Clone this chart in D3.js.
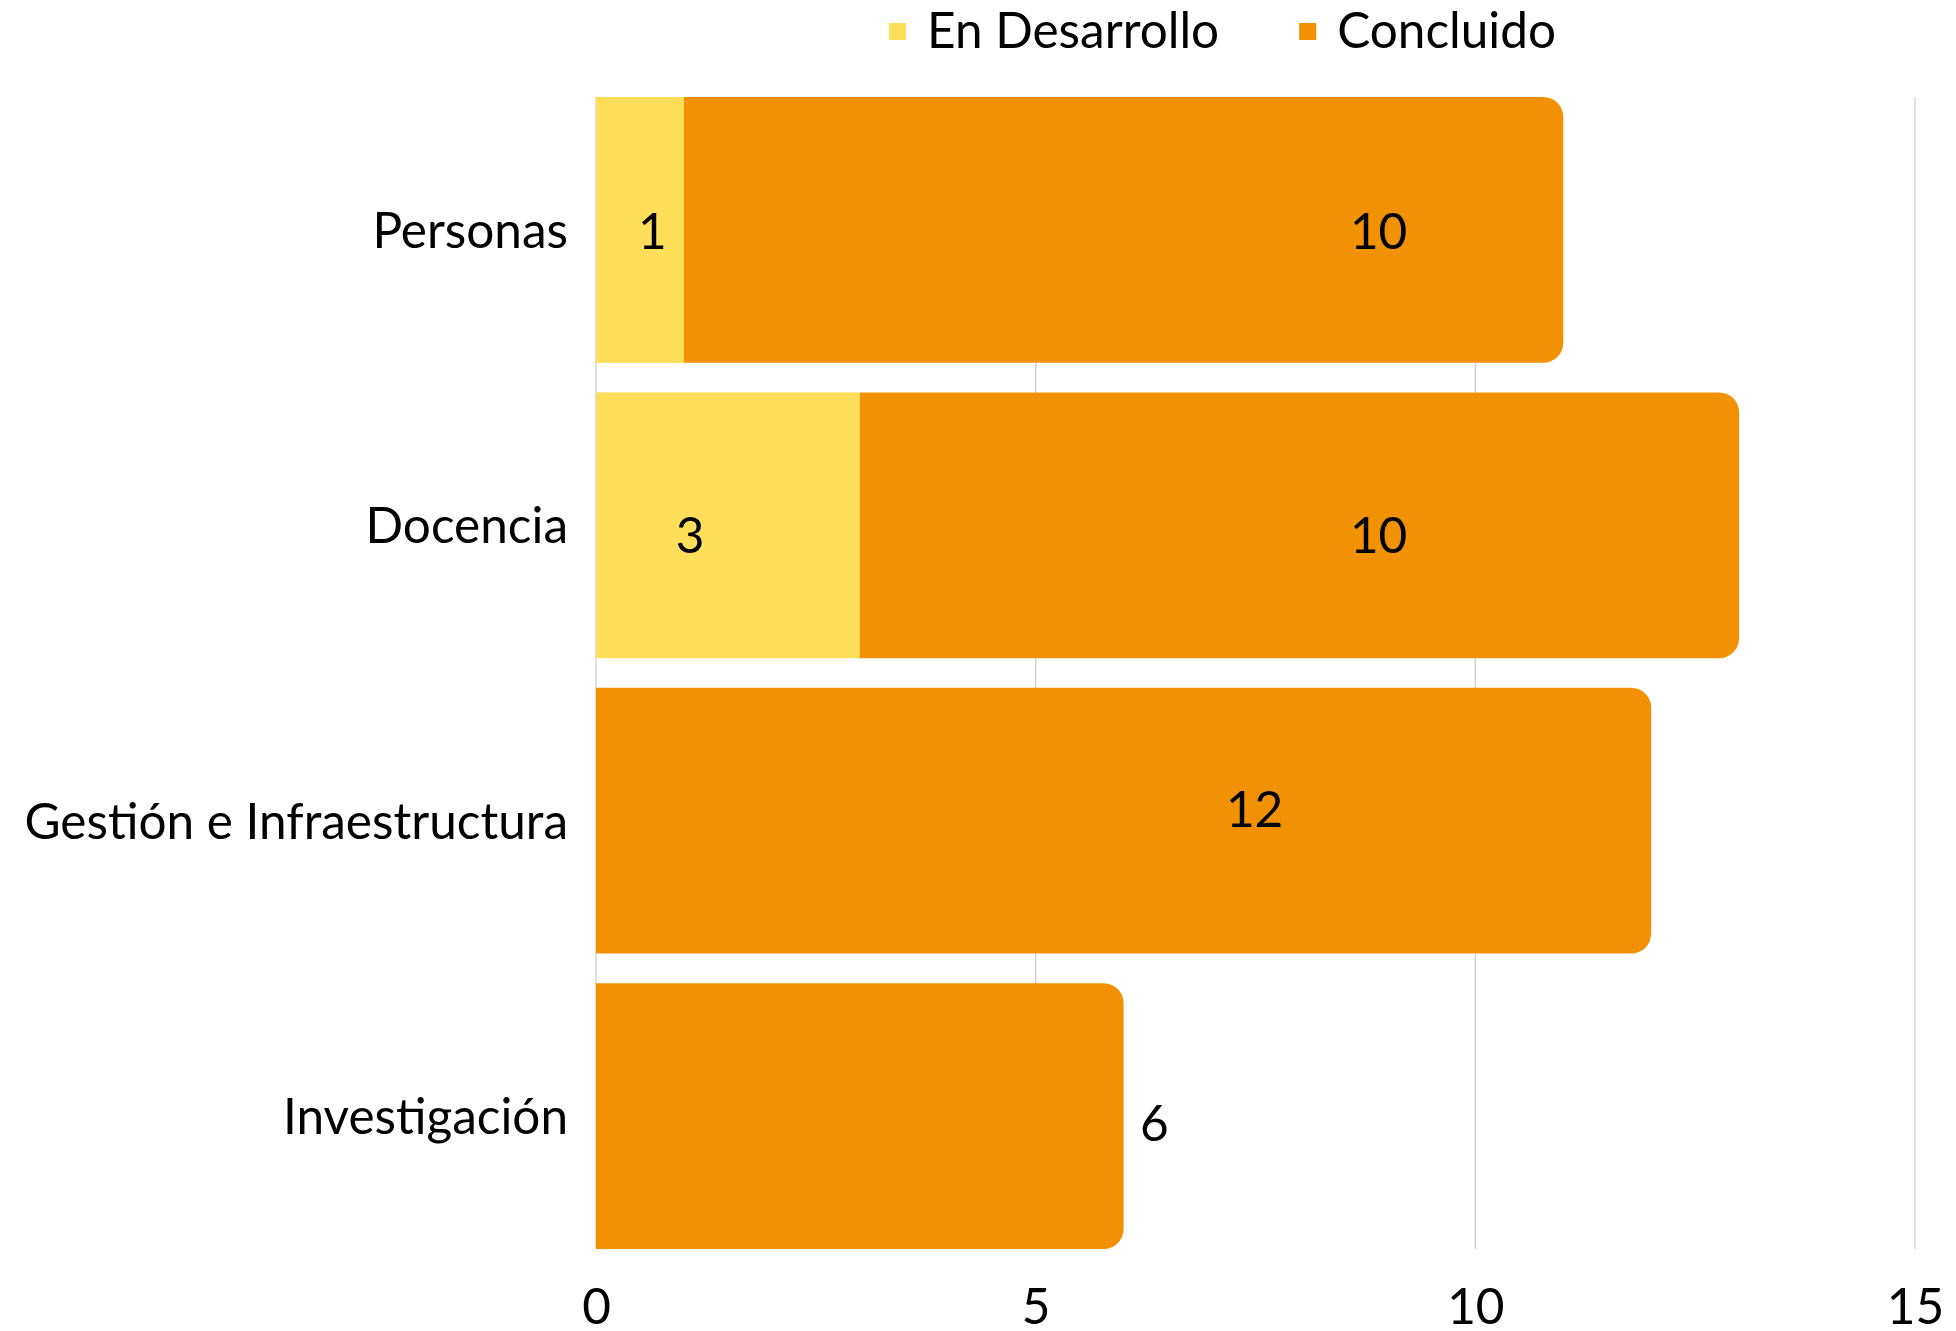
<!DOCTYPE html>
<html>
<head>
<meta charset="utf-8">
<script src="https://cdn.jsdelivr.net/npm/d3@7"></script>
<style>
  body { margin: 0; background: #fff; }
  text { font-family: Lato, "Open Sans", sans-serif; fill: #000; }
</style>
</head>
<body>
<div id="chart"></div>
<script>
// data
var categories = ["Personas", "Docencia", "Gestión e Infraestructura", "Investigación"];
var seriesNames = ["En Desarrollo", "Concluido"];
var enDesarrollo = [1, 3, 0, 0];
var concluido = [10, 10, 12, 6];
var xTicks = [0, 5, 10, 15];

// label anchors in value units (the original labels were moved by hand)
var labelAtDesarrollo = [0.64, 1.07, null, null];
var labelAtConcluido = [8.9, 8.9, 7.49, 6.35];
var labelNudge = [1, 10, -12, 7];

var colors = ["#FFDE5A", "#F29104"];
var fontSize = 49.5;

var W = 1956, H = 1331;
var margin = {top: 97, right: 41, bottom: 82, left: 596}
  , width = W - margin.left - margin.right
  , height = H - margin.top - margin.bottom;

var svg = d3.select("#chart").append("svg")
    .attr("width", W)
    .attr("height", H);

var g = svg.append("g")
    .attr("transform", "translate(" + margin.left + "," + margin.top + ")");

var xScale = d3.scaleLinear()
    .domain([0, 15])
    .range([0, width]);

var yScale = d3.scaleBand()
    .domain(categories)
    .range([0, height])
    .paddingInner(0.1)
    .paddingOuter(0);

// vertical gridlines
g.selectAll(".grid")
    .data(xTicks)
  .enter().append("line")
    .attr("class", "grid")
    .attr("x1", function(d) { return xScale(d); })
    .attr("x2", function(d) { return xScale(d); })
    .attr("y1", 0)
    .attr("y2", height)
    .attr("stroke", "#d0d0d0")
    .attr("stroke-width", 1.3);

// x axis tick labels
var xAxis = g.append("g")
    .attr("transform", "translate(0," + height + ")")
    .call(d3.axisBottom(xScale).tickValues(xTicks).tickSize(0).tickPadding(40));
xAxis.select(".domain").remove();
xAxis.selectAll("text")
    .attr("font-family", "Lato")
    .attr("font-size", fontSize)
    .attr("fill", "#000");

// y axis category labels
var yAxis = g.append("g")
    .call(d3.axisLeft(yScale).tickSize(0).tickPadding(28));
yAxis.select(".domain").remove();
yAxis.selectAll("text")
    .attr("font-family", "Lato")
    .attr("font-size", fontSize)
    .attr("fill", "#000")
    .attr("dy", "0.36em");

// bar with rounded right end
function roundedBar(x0, x1, y, h, r) {
  r = Math.min(r, (x1 - x0));
  return "M" + x0 + "," + y +
    "H" + (x1 - r) +
    "A" + r + "," + r + " 0 0 1 " + x1 + "," + (y + r) +
    "V" + (y + h - r) +
    "A" + r + "," + r + " 0 0 1 " + (x1 - r) + "," + (y + h) +
    "H" + x0 + "Z";
}

var rows = categories.map(function(c, i) {
  return {cat: c, des: enDesarrollo[i], con: concluido[i], i: i};
});

// En Desarrollo segments
g.selectAll(".des")
    .data(rows.filter(function(d) { return d.des > 0; }))
  .enter().append("rect")
    .attr("class", "des")
    .attr("x", xScale(0))
    .attr("y", function(d) { return yScale(d.cat); })
    .attr("width", function(d) { return xScale(d.des) - xScale(0); })
    .attr("height", yScale.bandwidth())
    .attr("fill", colors[0]);

// Concluido segments (end of stack, rounded)
g.selectAll(".con")
    .data(rows)
  .enter().append("path")
    .attr("class", "con")
    .attr("d", function(d) {
      return roundedBar(xScale(d.des), xScale(d.des + d.con), yScale(d.cat), yScale.bandwidth(), 20);
    })
    .attr("fill", colors[1]);

// value labels
var labels = [];
rows.forEach(function(d) {
  if (d.des > 0) labels.push({v: d.des, at: labelAtDesarrollo[d.i], cat: d.cat, i: d.i});
  labels.push({v: d.con, at: labelAtConcluido[d.i], cat: d.cat, i: d.i});
});

g.selectAll(".lbl")
    .data(labels)
  .enter().append("text")
    .attr("class", "lbl")
    .attr("x", function(d) { return xScale(d.at); })
    .attr("y", function(d) { return yScale(d.cat) + yScale.bandwidth() / 2 + labelNudge[d.i]; })
    .attr("dy", "0.36em")
    .attr("text-anchor", "middle")
    .attr("font-size", fontSize)
    .text(function(d) { return d.v; });

// legend
var legend = svg.append("g")
    .attr("transform", "translate(889,0)");
var lx = 0;
seriesNames.forEach(function(name, i) {
  var item = legend.append("g").attr("transform", "translate(" + lx + ",0)");
  item.append("rect")
      .attr("x", 0)
      .attr("y", 23)
      .attr("width", 17)
      .attr("height", 17)
      .attr("fill", colors[i]);
  var t = item.append("text")
      .attr("x", 38)
      .attr("y", 48)
      .attr("font-size", fontSize)
      .text(name);
  lx += 38 + t.node().getComputedTextLength() + 80;
});
</script>
</body>
</html>
